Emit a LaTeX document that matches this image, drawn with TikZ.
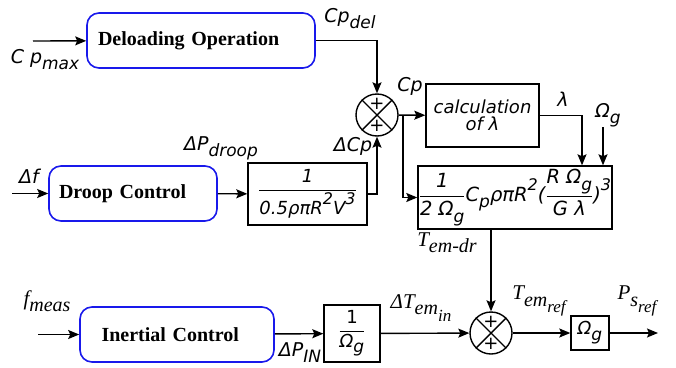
\documentclass[tikz,border=0pt]{standalone}
\usepackage{fontspec}
\usepackage{amsmath}
\setmainfont{Liberation Serif}
\newfontfamily\labfont{DejaVu Sans}
\usetikzlibrary{arrows.meta}

\definecolor{ctrlblue}{RGB}{25,25,235}
\newcommand\lsf{\labfont\itshape\fontsize{19}{21}\selectfont}
\newcommand\bsf{\labfont\itshape\fontsize{18}{20}\selectfont}
\newcommand\lsr{\rmfamily\itshape\fontsize{21}{23}\selectfont}
\newcommand\dn[1]{\raisebox{-0.32em}{\fontsize{17}{17}\selectfont #1}}
\newcommand\dnr[1]{\raisebox{-0.3em}{\fontsize{20}{20}\selectfont #1}}
\newcommand\up[1]{\raisebox{0.55em}{\fontsize{16}{16}\selectfont #1}}

\tikzset{
  ctrlbox/.style={draw=ctrlblue, line width=1.6pt, rounded corners=12pt,
    inner sep=0pt, minimum height=55pt, align=left,
    font=\rmfamily\bfseries\fontsize{20}{22}\selectfont},
  blockbox/.style={draw, line width=1.4pt, inner sep=0pt, font=\bsf},
  sumnode/.style={draw, circle, line width=1.4pt, minimum size=42pt, inner sep=0pt},
  plus/.style={font=\labfont\fontsize{18}{18}\selectfont, inner sep=0pt},
  lab/.style={font=\lsf, inner sep=0pt},
  labr/.style={font=\lsr, inner sep=0pt},
  wire/.style={line width=1.4pt},
  sig/.style={line width=1.4pt, -{Stealth[length=11pt,width=9pt,inset=2pt]}}
}

\begin{document}
\begin{tikzpicture}[x=1pt, y=-1pt]
\useasboundingbox (0,0) rectangle (676,367);

% upper path
\node[ctrlbox, minimum width=228pt, text width=206pt] (deload) at (201,40.5) {Deloading Operation};
\node[sumnode] (s1) at (377,115) {};
\node[blockbox, minimum width=113pt, minimum height=63pt, align=center] (calc) at (482.5,115.5)
  {calculation\\[-3pt]of λ};
\node[blockbox, minimum width=194pt, minimum height=63pt, font=\labfont\itshape\fontsize{19.5}{21}\selectfont] (torque) at (515,197.5)
  {\(\dfrac{\text{1}}{\text{2 Ω\dn{g}}}\)C\dn{p}ρπR\up{2}(\(\dfrac{\text{R Ω\dn{g}}}{\text{G λ}}\))\up{3}};

% droop path
\node[ctrlbox, minimum width=168pt, text width=148pt] (droop) at (133,193.5) {Droop Control};
\node[blockbox, minimum width=119pt, minimum height=62pt] (gain) at (307.5,194)
  {\(\dfrac{\text{1}}{\text{0.5ρπR\up{2}V\up{3}}}\)};

% inertial path
\node[ctrlbox, minimum width=194pt, text width=165pt] (inertial) at (177,334.5) {\hspace*{7pt}Inertial Control};
\node[blockbox, minimum width=56pt, minimum height=57pt] (inv) at (352,333.5)
  {\(\dfrac{\text{\upshape 1}}{\text{Ω\dn{g}}}\)};
\node[sumnode] (s2) at (491,333) {};
\node[blockbox, minimum width=38pt, minimum height=34pt] (omega) at (590,333) {Ω\dn{g}};

% crosses and signs
\foreach \s in {s1,s2}{
  \draw[wire] (\s.north west) -- (\s.south east);
  \draw[wire] (\s.north east) -- (\s.south west);
  \node[plus] at ([yshift=11pt]\s.center) {+};
  \node[plus] at ([yshift=-11pt]\s.center) {+};
}

% free ends
\coordinate (cpin) at (33,41);
\coordinate (dfin) at (12,193.5);
\coordinate (fin) at (38,334.5);
\coordinate (branch) at (403,115);
\coordinate (omin) at (603,127);
\coordinate (psout) at (658,333);

% signals
\draw[sig] (cpin) -- (deload);
\draw[sig] (deload.east) -| (s1.north);
\draw[sig] (s1) -- (calc);
\draw[sig] (branch) |- (torque.west);
\draw[sig] (calc.east) -| ([xshift=67pt]torque.north);
\draw[sig] (omin) -- (omin |- torque.north);
\draw[sig] (dfin) -- (droop);
\draw[sig] (droop) -- (gain);
\draw[sig] (gain.east) -| (s1.south);
\draw[sig] ([xshift=-24pt]torque.south) -- (s2.north);
\draw[sig] (fin) -- (inertial);
\draw[sig] (inertial) -- (inv);
\draw[sig] (inv) -- (s2);
\draw[sig] (s2) -- (omega);
\draw[sig] (omega) -- (psout);

% labels
\node[lab] (lcpmax) at (45,60) {C p\dn{max}};
\node[lab] (lcpdel) at (350,19) {Cp\dn{del}};
\node[lab] (lcp) at (410,86) {Cp};
\node[lab] (ldcp) at (353,146) {ΔCp};
\node[lab] (llam) at (563,99) {λ};
\node[lab] (lomg) at (608,115) {Ω\dn{g}};
\node[lab] (ldf) at (29,176) {Δf};
\node[lab] (ldpd) at (221,148) {ΔP\dn{droop}};
\node[labr] (ltdr) at (447,243) {T\dnr{em-dr}};
\node[labr] (lfm) at (47,301) {f\dnr{meas}};
\node[lab] (ldpin) at (300,353) {ΔP\dn{IN}};
\node[labr] (ldtin) at (421,308) {ΔT\dnr{em\dn{in}}};
\node[labr] (ltref) at (539,301) {T\dnr{em\dn{ref}}};
\node[labr] (lpref) at (637,301) {P\dnr{s\dn{ref}}};
\end{tikzpicture}
\end{document}
